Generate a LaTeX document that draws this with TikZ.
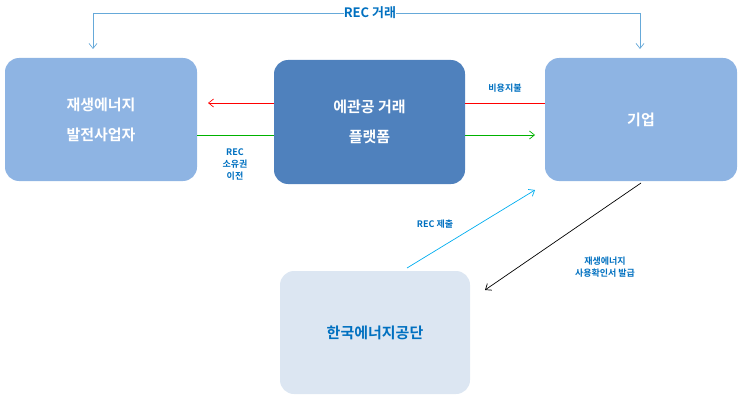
\documentclass[tikz,border=0pt]{standalone}
\usepackage{fontspec}
\usetikzlibrary{arrows.meta}
\setmainfont{Noto Sans CJK KR}[BoldFont={* Bold}]
\begin{document}
\begin{tikzpicture}[x=1pt,y=-1pt,
 box/.style={rounded corners=14pt,minimum width=192pt,minimum height=123pt,align=center,font=\bfseries\fontsize{15}{30}\selectfont,inner sep=0},
 lab/.style={align=center,text=blue!60!cyan!80!black,font=\bfseries\fontsize{9}{12}\selectfont,inner sep=0},
 arr/.style={-{Straight Barb[length=5pt,width=8pt]},line width=0.7pt}]
\useasboundingbox (0,0) rectangle (743,401);
\definecolor{lb}{HTML}{8EB4E3}\definecolor{db}{HTML}{4F81BD}\definecolor{pb}{HTML}{DCE6F2}\definecolor{tb}{HTML}{0070C0}
\node[box,fill=lb,text=white] (L) at (101,119.5) {재생에너지\\발전사업자};
\node[box,fill=db,text=white,minimum width=191pt,minimum height=124pt] (C) at (369.5,122) {에관공 거래\\플랫폼};
\node[box,fill=lb,text=white] (R) at (641,119.5) {기업};
\node[box,fill=pb,text=tb,minimum width=190pt] (B) at (375,332.5) {한국에너지공단};
\node[lab,text=tb,font=\bfseries\fontsize{13}{15}\selectfont] (T) at (370,13) {REC 거래};
\coordinate (t1) at (93,13); \coordinate (t2) at (640,13);
\draw[tb!60!white,line width=0.7pt] (T.west) -- (t1);
\draw[tb!60!white,line width=0.7pt] (T.east) -- (t2);
\draw[arr,tb!60!white] (t1) -- (93,49);
\draw[arr,tb!60!white] (t2) -- (640,49);
\draw[arr,red] (C.west|-0,103) -- (208,103);
\draw[red,line width=0.7pt] (C.east|-0,103) -- (R.west|-0,103);
\draw[green!70!black,line width=0.7pt] (L.east|-0,135) -- (C.west|-0,135);
\draw[arr,green!70!black] (C.east|-0,135) -- (535,135);
\draw[arr,cyan] (407,268) -- (535,190);
\draw[arr,black] (641,183) -- (485,290);
\node[lab,text=tb] (l1) at (235,165) {REC\\소유권\\이전};
\node[lab,text=tb] (l2) at (505,88) {비용지불};
\node[lab,text=tb] (l3) at (435,224) {REC 제출};
\node[lab,text=tb] (l4) at (605,267) {재생에너지\\사용확인서 발급};
\end{tikzpicture}
\end{document}
